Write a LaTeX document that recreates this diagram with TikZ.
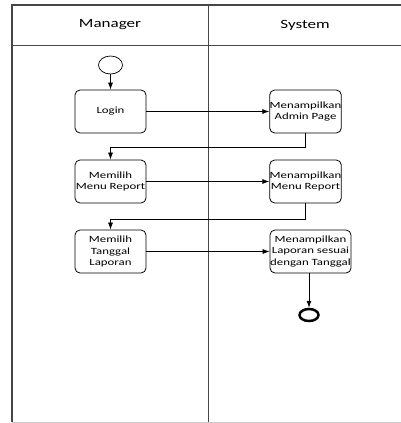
\documentclass[tikz,border=0pt]{standalone}
\usepackage{fontspec}
\setmainfont{Carlito}[FakeStretch=1.35]
\usetikzlibrary{shapes.geometric,arrows.meta}
\definecolor{lane}{RGB}{70,70,70}

\tikzset{
  activity/.style={draw, line width=0.8pt, rounded corners=5pt, minimum width=71pt, minimum height=43pt,
    inner sep=0pt, align=center, font=\fontsize{9.5}{11.5}\selectfont},
  flow/.style={-{Latex[length=7pt,width=5pt]}, line width=0.7pt}
}

\begin{document}
\begin{tikzpicture}[x=1pt,y=-1pt]
\useasboundingbox (0,0) rectangle (400,423);
% swimlanes
\draw [lane, line width=1.3pt] (12,422) -- (12,5) -- (401,5);
\draw [lane, line width=1pt] (12,45) -- (401,45);
\draw [lane, line width=1pt] (208,5) -- (208,422);
\draw [gray!40, line width=1pt] (12,422) -- (401,422);
\node (manager) at (110,25) {\fontsize{12.6}{14}\selectfont Manager};
\node (system) at (305,25) {\fontsize{12.6}{14}\selectfont System};

% nodes
\node [draw, line width=0.7pt, ellipse, minimum width=24pt, minimum height=18pt, inner sep=0pt] (start) at (110.5,65) {};
\node [activity] (login) at (110.5,111.5) {Login};
\node [activity] (admin) at (305.5,111.5) {Menampilkan\\Admin Page};
\node [activity] (pilihmenu) at (110.5,181.5) {Memilih\\Menu Report};
\node [activity] (tampilmenu) at (305.5,181.5) {Menampilkan\\Menu Report};
\node [activity] (pilihtgl) at (110.5,251.5) {Memilih\\Tanggal\\Laporan};
\node [activity, minimum width=81pt] (laporan) at (310.5,251.5) {Menampilkan\\Laporan sesuai\\dengan Tanggal};
\node [draw, ellipse, line width=2.5pt, minimum width=19pt, minimum height=12pt, inner sep=0pt] (end) at (309,315) {};

% connectors
\draw [flow] (start) -- (login);
\draw [flow] (login) -- (admin);
\draw [flow] (admin.south) -- ++(0,13.5) -| (pilihmenu.north);
\draw [flow] (pilihmenu) -- (tampilmenu);
\draw [flow] (tampilmenu.south) -- ++(0,15.5) -| (pilihtgl.north);
\draw [flow] (pilihtgl) -- (laporan);
\draw [flow] (laporan.south -| end.north) -- (end.north);

\end{tikzpicture}
\end{document}
